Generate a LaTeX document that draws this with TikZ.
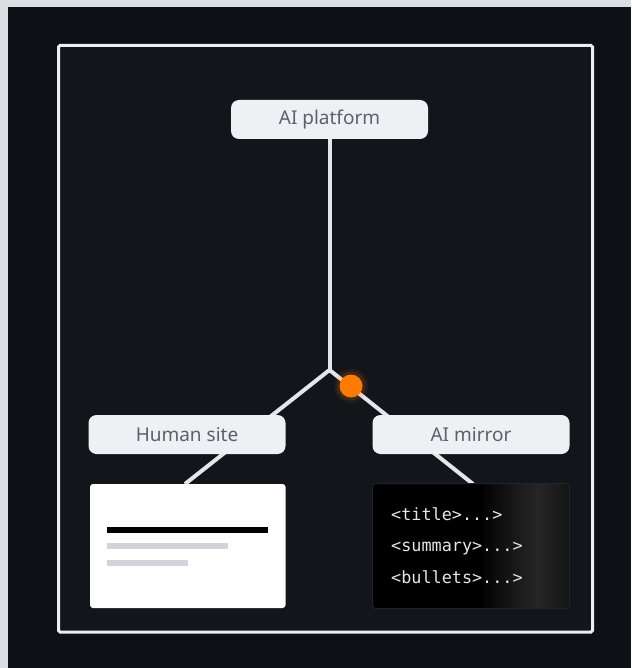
\documentclass[tikz,border=0pt]{standalone}
\usepackage{fontspec}
\setmainfont{Noto Sans}
\newfontfamily\codefont{DejaVu Sans Mono}
\usetikzlibrary{backgrounds}
\definecolor{outerbg}{HTML}{DCDDE0}
\definecolor{panel}{HTML}{0D1017}
\definecolor{innerbg}{HTML}{12151A}
\definecolor{framec}{HTML}{ECEEF1}
\definecolor{linec}{HTML}{E4E6EA}
\definecolor{boxfill}{HTML}{EEF0F3}
\definecolor{boxtext}{HTML}{5B626E}
\definecolor{dot}{HTML}{FF7A00}
\definecolor{codetext}{HTML}{E6E6E6}
\definecolor{cardborder}{HTML}{1E2430}
\definecolor{graybar}{HTML}{D2D4D9}
\definecolor{sheenA}{HTML}{161616}
\definecolor{sheenB}{HTML}{262626}
\definecolor{sheenC}{HTML}{141414}
\pgfdeclarehorizontalshading{sheen}{100bp}{color(0bp)=(black); color(52bp)=(black); color(60bp)=(sheenA); color(67bp)=(sheenB); color(75bp)=(sheenC); color(100bp)=(sheenC)}
\tikzset{
  labelbox/.style={draw=none, fill=boxfill, rounded corners=8pt, minimum width=197pt, minimum height=39pt, inner sep=0pt, text=boxtext, font=\fontsize{19}{21}\selectfont},
  link/.style={draw=linec, line width=4pt},
  codeline/.style={anchor=base west, inner sep=0pt, text=codetext, font=\codefont\fontsize{16.8}{18}\selectfont},
  bar/.style={line width=6pt}
}
\begin{document}
\begin{tikzpicture}[x=1pt, y=-1pt]
\useasboundingbox (0,0) rectangle (631,668);
\begin{scope}[on background layer]
\fill[outerbg] (0,0) rectangle (631,668);
\fill[panel] (8,7) rectangle (631,668);
\draw[framec, line width=3pt, fill=innerbg, rounded corners=1.5pt] (58.5,45.5) rectangle (592.5,632);
\end{scope}

% nodes
\node[labelbox] (plat) at (329.5,119.5) {AI platform};
\node[labelbox] (human) at (187,434.5) {Human site};
\node[labelbox] (mirror) at (471,434.5) {AI mirror};
\coordinate (j) at (329.5,370);
\coordinate (hend) at (185,484);
\coordinate (mend) at (473,484);

% connectors (behind boxes)
\begin{scope}[on background layer]
\path[link] (plat.south) -- (j);
\path[link, line join=miter] (hend) -- (j) -- (mend);
\end{scope}

% orange dot with glow
\fill[dot, opacity=0.08] (351,386) circle (17);
\fill[dot, opacity=0.12] (351,386) circle (14.5);
\node[circle, fill=dot, minimum size=23pt, inner sep=0pt] (odot) at (351,386) {};

% human card
\node[draw=none, fill=white, rounded corners=3pt, minimum width=195.5pt, minimum height=124pt, inner sep=0pt] (hcard) at (187.75,546) {};
\draw[bar, black] (106.5,529.5) -- (268,529.5);
\draw[bar, graybar] (106.5,546) -- (228,546);
\draw[bar, graybar] (106.5,563) -- (188,563);

% mirror card
\path[shading=sheen, rounded corners=3pt] (372.5,483.5) rectangle (569.5,608.5);
\node[draw=cardborder, line width=1pt, rounded corners=3pt, minimum width=197pt, minimum height=125pt, inner sep=0pt] (mcard) at (471,546) {};
\node[codeline] (c1) at (391,520.5) {<title>...>};
\node[codeline] (c2) at (391,551.8) {<summary>...>};
\node[codeline] (c3) at (391,583) {<bullets>...>};
\end{tikzpicture}
\end{document}
